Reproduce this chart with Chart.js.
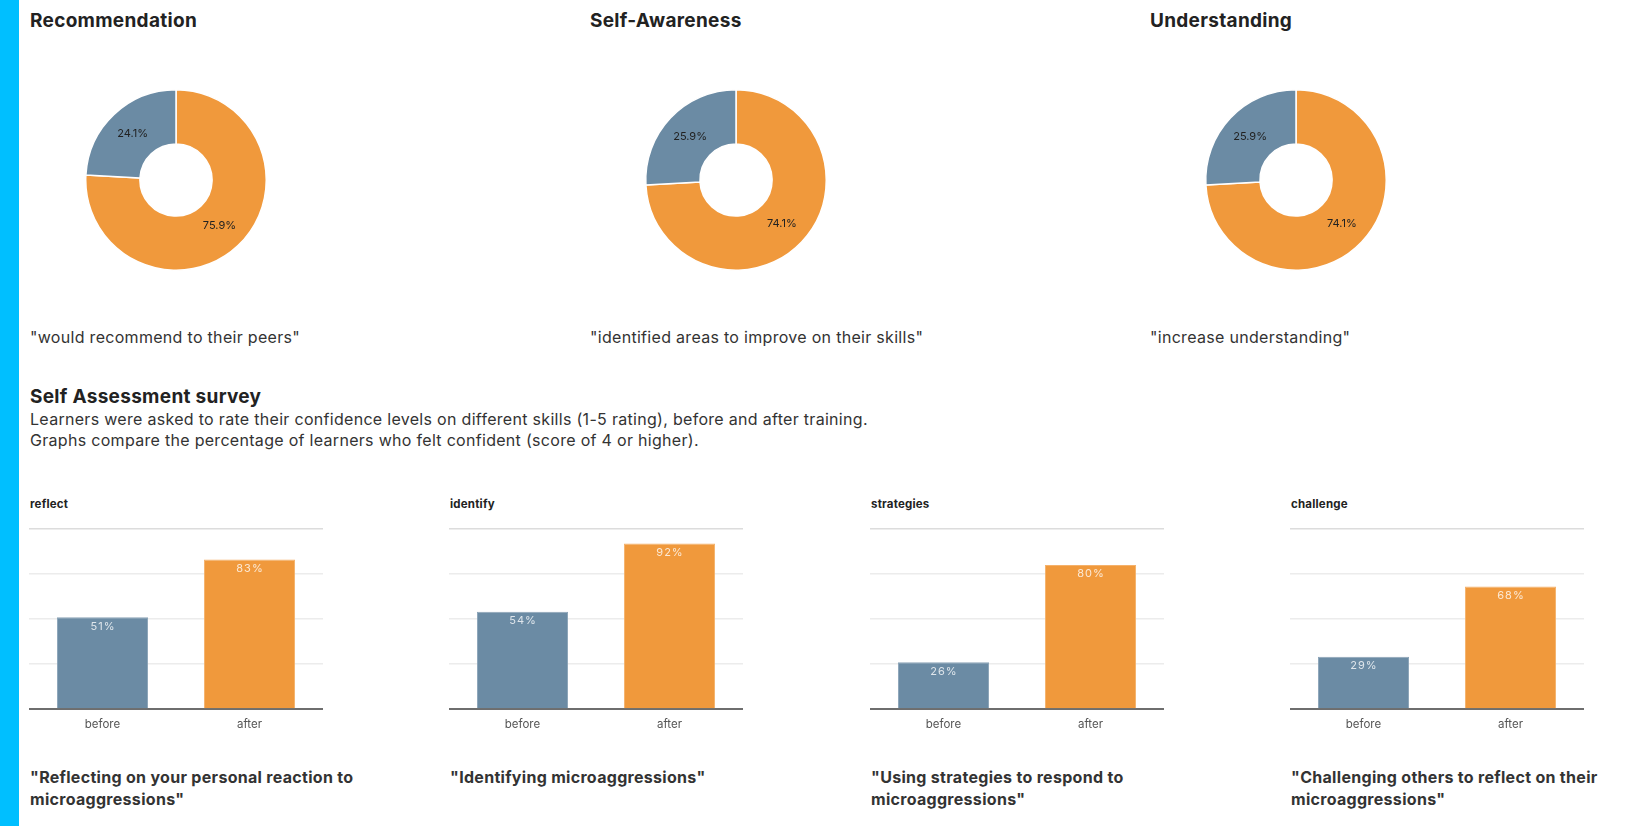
<!DOCTYPE html>
<html>
<head>
<meta charset="utf-8">
<script src="https://cdn.jsdelivr.net/npm/chart.js@4"></script>
<style>
  html, body { margin: 0; padding: 0; background: #fff; }
  body { width: 1633px; height: 826px; position: relative; overflow: hidden; font-family: Inter, "Noto Sans", sans-serif; color: #333; }
  .stripe { position: absolute; left: 0; top: 0; width: 19px; height: 826px; background: #00bfff; }
  .abs { position: absolute; }
  .donut-title { font-size: 19px; font-weight: 700; color: #222; top: 10px; line-height: 22px; white-space: nowrap; letter-spacing: 0.3px; }
  .donut-caption { font-size: 16px; color: #333; top: 326px; line-height: 22px; white-space: nowrap; letter-spacing: 0.3px; }
  .section-title { left: 30px; top: 386px; font-size: 19px; font-weight: 700; color: #222; line-height: 22px; letter-spacing: 0.3px; }
  .section-text { left: 30px; top: 409px; font-size: 16px; color: #333; line-height: 21px; letter-spacing: 0.3px; }
  .bar-title { font-size: 11.5px; font-weight: 700; color: #222; top: 496px; line-height: 16px; letter-spacing: 0.2px; }
  .bar-caption { font-size: 16px; font-weight: 700; color: #333; top: 766px; width: 380px; line-height: 22px; letter-spacing: 0.3px; }
</style>
</head>
<body>
<div class="stripe"></div>
<script>
const donutTitles = ["Recommendation", "Self-Awareness", "Understanding"];
const donutCaptions = [
  "\"would recommend to their peers\"",
  "\"identified areas to improve on their skills\"",
  "\"increase understanding\"",
];
const donutCategories = ["Yes", "No"];
const recommendationValues = [75.9, 24.1];
const selfAwarenessValues = [74.1, 25.9];
const understandingValues = [74.1, 25.9];

const barTitles = ["reflect", "identify", "strategies", "challenge"];
const barCaptions = [
  "\"Reflecting on your personal reaction to microaggressions\"",
  "\"Identifying microaggressions\"",
  "\"Using strategies to respond to microaggressions\"",
  "\"Challenging others to reflect on their microaggressions\"",
];
const barCategories = ["before", "after"];
const reflectValues = [51, 83];
const identifyValues = [54, 92];
const strategiesValues = [26, 80];
const challengeValues = [29, 68];
const percentTicks = [0, 25, 50, 75, 100];

const BLUE = "#6b8ba4";
const ORANGE = "#f0993c";

// prints the share inside each doughnut slice
const sliceLabels = {
  id: "sliceLabels",
  afterDatasetsDraw(chart) {
    const ctx = chart.ctx;
    const meta = chart.getDatasetMeta(0);
    const values = chart.data.datasets[0].data;
    ctx.save();
    ctx.font = "11px Inter, sans-serif";
    ctx.fillStyle = "#222";
    ctx.textAlign = "center";
    ctx.textBaseline = "middle";
    meta.data.forEach((arc, i) => {
      const p = arc.tooltipPosition();
      ctx.fillText(values[i].toFixed(1) + "%", p.x, p.y);
    });
    ctx.restore();
  },
};

// prints the value just under the top of each bar
const barLabels = {
  id: "barLabels",
  afterDatasetsDraw(chart) {
    const ctx = chart.ctx;
    const meta = chart.getDatasetMeta(0);
    const values = chart.data.datasets[0].data;
    ctx.save();
    ctx.font = "11px Inter, sans-serif";
    ctx.letterSpacing = "1px";
    ctx.fillStyle = "rgba(255,255,255,0.78)";
    ctx.textAlign = "center";
    ctx.textBaseline = "middle";
    meta.data.forEach((bar, i) => {
      ctx.fillText(values[i] + "%", bar.x + 0.5, bar.y + 9);
    });
    ctx.restore();
  },
};

function addEl(cls, left, text) {
  const el = document.createElement("div");
  el.className = "abs " + cls;
  el.style.left = left + "px";
  el.textContent = text;
  document.body.appendChild(el);
  return el;
}

function addCanvas(left, top, width, height) {
  const canvas = document.createElement("canvas");
  canvas.className = "abs";
  canvas.style.left = left + "px";
  canvas.style.top = top + "px";
  canvas.style.width = width + "px";
  canvas.style.height = height + "px";
  canvas.width = width;
  canvas.height = height;
  document.body.appendChild(canvas);
  return canvas;
}

function makeDonut(canvas, values) {
  new Chart(canvas.getContext("2d"), {
    type: "doughnut",
    data: {
      labels: donutCategories,
      datasets: [
        {
          data: values,
          backgroundColor: [ORANGE, BLUE],
          borderColor: "#ffffff",
          borderWidth: 1.5,
        },
      ],
    },
    options: {
      responsive: false,
      animation: false,
      cutout: "40%",
      plugins: { legend: { display: false }, tooltip: { enabled: false } },
    },
    plugins: [sliceLabels],
  });
}

function makeBars(canvas, values) {
  new Chart(canvas.getContext("2d"), {
    type: "bar",
    data: {
      labels: barCategories,
      datasets: [
        {
          data: values,
          backgroundColor: [BLUE, ORANGE],
          borderColor: ["#8aa3b7", "#f5b16a"],
          borderWidth: { top: 1, left: 1, right: 1, bottom: 0 },
          barPercentage: 0.62,
          categoryPercentage: 1,
        },
      ],
    },
    options: {
      responsive: false,
      animation: false,
      layout: { padding: { top: 10, left: 0, right: 0, bottom: 0 } },
      plugins: { legend: { display: false }, tooltip: { enabled: false } },
      scales: {
        x: {
          grid: { display: false },
          border: { display: true, color: "#6e6e6e", width: 2 },
          ticks: { color: "#555", font: { family: "Inter", size: 11.5 }, padding: 1 },
          afterFit(scale) { scale.height = 26; },
        },
        y: {
          min: 0,
          max: 100,
          afterBuildTicks(scale) {
            scale.ticks = percentTicks.map((v) => ({ value: v }));
          },
          ticks: { display: false },
          border: { display: false },
          grid: {
            drawTicks: false,
            color: (c) => (c.tick && c.tick.value === 100 ? "#dcdcdc" : "#ececec"),
            lineWidth: 1.5,
          },
          afterFit(scale) { scale.width = 0; },
        },
      },
    },
    plugins: [barLabels],
  });
}

const donutLefts = [30, 590, 1150];
const donutSets = [recommendationValues, selfAwarenessValues, understandingValues];
donutLefts.forEach((left, i) => {
  addEl("donut-title", left, donutTitles[i]);
  addEl("donut-caption", left, donutCaptions[i]);
  makeDonut(addCanvas(left, 89, 292, 182), donutSets[i]);
});

addEl("section-title", 30, "Self Assessment survey");
const txt = addEl("section-text", 30, "");
txt.innerHTML =
  "Learners were asked to rate their confidence levels on different skills (1-5 rating), before and after training.<br>" +
  "Graphs compare the percentage of learners who felt confident (score of 4 or higher).";

const barLefts = [29, 449, 870, 1290];
const barSets = [reflectValues, identifyValues, strategiesValues, challengeValues];
barLefts.forEach((left, i) => {
  addEl("bar-title", left + 1, barTitles[i]);
  addEl("bar-caption", left + 1, barCaptions[i]);
  makeBars(addCanvas(left, 519, 294, 216), barSets[i]);
});
</script>
</body>
</html>
